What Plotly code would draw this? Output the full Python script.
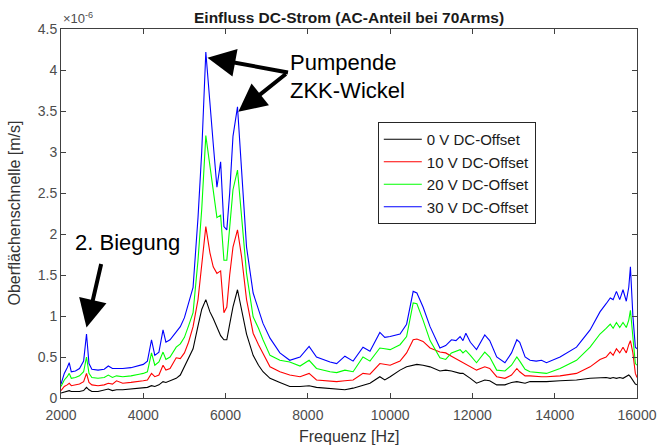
import plotly.graph_objects as go

# Frequency grid [Hz]
freq = [2000, 2080, 2150, 2200, 2250, 2350, 2450, 2550, 2620, 2680, 2750, 2900, 3050, 3150, 3250,
        3350, 3500, 3700, 3900, 4000, 4100, 4200, 4280, 4380, 4480, 4550, 4650, 4800, 4900, 5000,
        5100, 5210, 5330, 5420, 5520, 5620, 5700, 5790, 5880, 5960, 6030, 6100, 6180, 6290, 6390,
        6510, 6670, 6800, 6910, 7080, 7320, 7560, 7810, 8030, 8210, 8540, 8700, 8900, 9100, 9340,
        9510, 9750, 9870, 10000, 10240, 10400, 10560, 10650, 10800, 10970, 11210, 11350, 11490, 11600,
        11700, 11770, 11840, 11950, 12100, 12300, 12420, 12590, 12790, 12950, 13080, 13150, 13280,
        13400, 13550, 13680, 13800, 14130, 14530, 14860, 15100, 15250, 15350, 15420, 15500, 15580,
        15660, 15740, 15800, 15840, 15900, 15960, 16000]

# Oberflaechenschnelle in units of 1e-6 m/s
v0 = [0.06, 0.07, 0.08, 0.09, 0.08, 0.08, 0.08, 0.09, 0.13, 0.10, 0.08, 0.08, 0.10, 0.11, 0.09,
      0.10, 0.10, 0.11, 0.12, 0.12, 0.13, 0.15, 0.14, 0.16, 0.20, 0.19, 0.21, 0.24, 0.28, 0.38,
      0.48, 0.60, 0.88, 1.08, 1.20, 1.05, 0.97, 0.87, 0.76, 0.71, 0.71, 0.90, 1.11, 1.32, 1.08,
      0.78, 0.52, 0.40, 0.32, 0.24, 0.19, 0.14, 0.14, 0.15, 0.13, 0.12, 0.11, 0.10, 0.12, 0.15,
      0.18, 0.26, 0.22, 0.26, 0.34, 0.38, 0.40, 0.41, 0.40, 0.38, 0.33, 0.34, 0.33, 0.31,
      0.30, 0.30, 0.28, 0.24, 0.18, 0.22, 0.21, 0.16, 0.16, 0.19, 0.20, 0.19, 0.18,
      0.20, 0.20, 0.20, 0.20, 0.21, 0.22, 0.24, 0.25, 0.25, 0.24, 0.25, 0.24, 0.25,
      0.24, 0.26, 0.28, 0.26, 0.22, 0.17, 0.16]
v10 = [0.09, 0.14, 0.16, 0.18, 0.15, 0.16, 0.17, 0.20, 0.30, 0.19, 0.16, 0.15, 0.16, 0.18, 0.17,
       0.21, 0.18, 0.19, 0.20, 0.21, 0.22, 0.30, 0.26, 0.28, 0.40, 0.34, 0.36, 0.49, 0.48, 0.55,
       0.68, 0.87, 1.20, 1.60, 2.09, 1.77, 1.60, 1.52, 1.55, 1.04, 1.11, 1.50, 1.84, 2.05, 1.72,
       1.20, 0.79, 0.65, 0.55, 0.38, 0.32, 0.28, 0.26, 0.30, 0.22, 0.21, 0.20, 0.21, 0.22, 0.30,
       0.29, 0.42, 0.41, 0.40, 0.45, 0.55, 0.71, 0.72, 0.69, 0.61, 0.56, 0.55, 0.51, 0.48,
       0.45, 0.43, 0.42, 0.38, 0.34, 0.38, 0.36, 0.26, 0.24, 0.28, 0.36, 0.32, 0.27,
       0.27, 0.26, 0.26, 0.26, 0.27, 0.30, 0.38, 0.47, 0.50, 0.56, 0.52, 0.60, 0.55,
       0.62, 0.55, 0.65, 0.70, 0.55, 0.30, 0.25]
v20 = [0.14, 0.22, 0.26, 0.30, 0.24, 0.25, 0.27, 0.32, 0.50, 0.30, 0.25, 0.24, 0.25, 0.28, 0.25,
       0.27, 0.26, 0.27, 0.29, 0.30, 0.32, 0.55, 0.40, 0.44, 0.56, 0.47, 0.50, 0.62, 0.66, 0.74,
       0.88, 1.04, 1.68, 2.30, 3.20, 2.82, 2.50, 2.20, 2.23, 1.68, 1.68, 2.10, 2.54, 2.78, 2.17,
       1.52, 0.99, 0.85, 0.71, 0.52, 0.46, 0.44, 0.39, 0.46, 0.36, 0.32, 0.31, 0.34, 0.32, 0.50,
       0.45, 0.61, 0.60, 0.59, 0.65, 0.75, 1.16, 1.15, 0.95, 0.70, 0.49, 0.47, 0.55, 0.57,
       0.59, 0.55, 0.58, 0.52, 0.43, 0.56, 0.50, 0.34, 0.33, 0.40, 0.50, 0.45, 0.35,
       0.32, 0.31, 0.31, 0.30, 0.36, 0.46, 0.62, 0.78, 0.85, 0.90, 0.85, 0.92, 0.86,
       0.92, 0.86, 0.95, 1.07, 0.75, 0.42, 0.40]
v30 = [0.17, 0.30, 0.37, 0.43, 0.32, 0.33, 0.36, 0.45, 0.78, 0.42, 0.35, 0.34, 0.35, 0.39, 0.36,
       0.36, 0.36, 0.37, 0.40, 0.41, 0.45, 0.71, 0.52, 0.56, 0.83, 0.68, 0.71, 0.80, 0.87, 0.98,
       1.15, 1.35, 2.20, 3.00, 4.22, 3.55, 3.10, 2.57, 2.88, 2.09, 2.05, 2.50, 3.19, 3.55, 2.74,
       1.84, 1.28, 1.08, 0.91, 0.73, 0.55, 0.46, 0.50, 0.63, 0.50, 0.44, 0.42, 0.51, 0.45, 0.62,
       0.57, 0.80, 0.74, 0.75, 0.78, 0.90, 1.30, 1.28, 1.11, 0.87, 0.61, 0.64, 0.71, 0.70,
       0.75, 0.70, 0.79, 0.68, 0.59, 0.77, 0.70, 0.50, 0.43, 0.55, 0.71, 0.68, 0.50,
       0.46, 0.45, 0.46, 0.43, 0.50, 0.62, 0.83, 1.05, 1.15, 1.22, 1.20, 1.30, 1.20,
       1.32, 1.18, 1.35, 1.60, 1.00, 0.62, 0.60]

series_names = ["0 V DC-Offset", "10 V DC-Offset", "20 V DC-Offset", "30 V DC-Offset"]
series_values = [v0, v10, v20, v30]
series_colors = ["#000000", "#ff0000", "#00ff00", "#0000ff"]

x_tickvals = [2000, 4000, 6000, 8000, 10000, 12000, 14000, 16000]
x_ticktext = ["2000", "4000", "6000", "8000", "10000", "12000", "14000", "16000"]
y_tickvals = [0, 0.5, 1, 1.5, 2, 2.5, 3, 3.5, 4, 4.5]
y_ticktext = ["0", "0.5", "1", "1.5", "2", "2.5", "3", "3.5", "4", "4.5"]

title_text = "<b>Einfluss DC-Strom (AC-Anteil bei 70Arms)</b>"
x_title = "Frequenz [Hz]"
y_title = "Oberflächenschnelle [m/s]"

fig = go.Figure()
for i, (name, vals, col) in enumerate(zip(series_names, series_values, series_colors)):
    fig.add_trace(go.Scatter(x=freq, y=vals, mode="lines", name=name,
                             line=dict(color=col, width=1.1), legendgroup=f"g{i}"))

axcol = "#404040"
sans = "Liberation Sans, Arial, sans-serif"
tickfont = dict(family=sans, size=14, color="#4d4d4d")
common = dict(showline=True, linecolor=axcol, linewidth=1, mirror="ticks", ticks="inside",
              ticklen=5, tickcolor=axcol, showgrid=False, zeroline=False, tickfont=tickfont)

fig.update_xaxes(range=[2000, 16000], tickvals=x_tickvals, ticktext=x_ticktext,
                 ticklabelstandoff=4, **common)
fig.update_yaxes(range=[0, 4.5], tickvals=y_tickvals, ticktext=y_ticktext, **common)

# peak positions derived from data
i1 = v30.index(max(v30))
sub = v30[i1 + 5:i1 + 12]
i2 = i1 + 5 + sub.index(max(sub))
i3 = v30.index(max(v30[:15]))

big = dict(family=sans, size=22, color="black")
annotations = [
    dict(text=title_text, xref="paper", yref="paper", x=0.5, y=1.0, yshift=12,
         showarrow=False, font=dict(family=sans, size=15.5, color="#1a1a1a"),
         xanchor="center", yanchor="middle"),
    dict(text="×10<sup>-6</sup>", xref="paper", yref="paper", x=0.0, y=1.0, yshift=1,
         showarrow=False, font=dict(family=sans, size=13, color="#4d4d4d"),
         xanchor="left", yanchor="bottom"),
    dict(text=x_title, xref="paper", yref="paper", x=0.5, y=0, yshift=-38,
         showarrow=False, font=dict(family=sans, size=16, color="#333333"),
         xanchor="center", yanchor="middle"),
    dict(text=y_title, xref="paper", yref="paper", x=0, xshift=-47, y=0.5, textangle=-90,
         showarrow=False, font=dict(family=sans, size=16, color="#333333"),
         xanchor="center", yanchor="middle"),
    dict(text="Pumpende", xref="paper", yref="paper", x=0, xshift=227, y=1.0, yshift=-33,
         showarrow=False, font=big, xanchor="left", yanchor="middle"),
    dict(text="ZKK-Wickel", xref="paper", yref="paper", x=0, xshift=227, y=1.0, yshift=-61,
         showarrow=False, font=big, xanchor="left", yanchor="middle"),
    dict(text="2. Biegung", xref="paper", yref="paper", x=0, xshift=12, y=0, yshift=156,
         showarrow=False, font=big, xanchor="left", yanchor="middle"),
    dict(text="", x=freq[i1] + 40, y=v30[i1] - 0.07, xref="x", yref="y", showarrow=True,
         ax=82, ay=15, arrowhead=2, arrowsize=1.4, arrowwidth=4, arrowcolor="black"),
    dict(text="", x=freq[i2] + 20, y=v30[i2] - 0.06, xref="x", yref="y", showarrow=True,
         ax=49, ay=-39, arrowhead=2, arrowsize=1.4, arrowwidth=4, arrowcolor="black"),
    dict(text="", x=freq[i3], y=v30[i3] + 0.08, xref="x", yref="y", showarrow=True,
         ax=15, ay=-65, arrowhead=2, arrowsize=1.4, arrowwidth=4, arrowcolor="black"),
]

fig.update_layout(
    width=669, height=446,
    margin=dict(l=61, r=32, t=29, b=48),
    plot_bgcolor="white", paper_bgcolor="white",
    annotations=annotations,
    showlegend=True,
    legend=dict(x=0.55, y=0.748, xanchor="left", yanchor="top",
                bgcolor="white", bordercolor="#262626", borderwidth=1,
                font=dict(family=sans, size=15, color="#1a1a1a"),
                tracegroupgap=0, itemwidth=38),
)

fig.write_html("out.html", config={"displayModeBar": False},
               post_script="document.body.style.margin='0px';")
